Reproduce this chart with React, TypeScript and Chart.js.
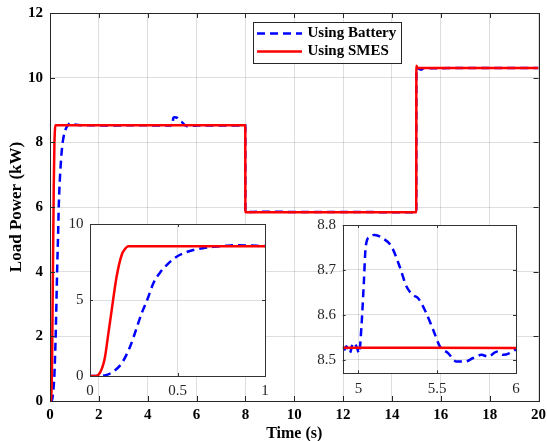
import React, { useEffect, useRef } from "react";
import { Chart, registerables } from "chart.js";

Chart.register(...registerables);

// ---------- data ----------
const seriesLabels = ["Using Battery", "Using SMES"];

const batteryTime = [
  0, 0.05, 0.095, 0.14, 0.181, 0.229, 0.262, 0.295, 0.33, 0.362, 0.4, 0.438, 0.495, 0.54, 0.59, 0.65, 0.705,
  0.77, 0.838, 0.92, 1.0, 1.5, 2.5, 3.5, 4.5, 4.902, 4.924, 4.945, 4.966, 4.987, 5.004, 5.019, 5.034, 5.046,
  5.072, 5.104, 5.156, 5.21, 5.262, 5.305, 5.347, 5.379, 5.421, 5.474, 5.517, 5.569, 5.623, 5.675, 5.728,
  5.781, 5.823, 5.877, 5.919, 5.961, 5.993, 6.5, 7.5, 7.995, 8.0, 8.5, 14.995, 15.0, 15.1, 15.2, 15.3, 20,
];
const batteryPower = [
  0, 0, 0.07, 0.35, 0.83, 1.93, 3.0, 4.12, 5.1, 6.1, 6.8, 7.3, 7.85, 8.1, 8.29, 8.42, 8.5,
  8.56, 8.6, 8.58, 8.55, 8.53, 8.52, 8.53, 8.52, 8.518, 8.53, 8.515, 8.537, 8.53, 8.515, 8.574, 8.67, 8.752,
  8.774, 8.778, 8.77, 8.752, 8.707, 8.663, 8.644, 8.637, 8.611, 8.567, 8.53, 8.515, 8.496, 8.496, 8.504,
  8.511, 8.507, 8.518, 8.511, 8.515, 8.522, 8.52, 8.52, 8.52, 5.84, 5.85, 5.84, 10.3, 10.27, 10.25, 10.29, 10.3,
];

const smesTime = [0, 0.03, 0.048, 0.07, 0.086, 0.105, 0.124, 0.152, 0.181, 0.2, 0.219, 1, 5, 7.995, 8.0, 14.995, 15.0, 15.05, 20];
const smesPower = [0, 0, 0.07, 0.55, 1.27, 2.8, 4.34, 6.53, 7.96, 8.35, 8.528, 8.528, 8.527, 8.525, 5.84, 5.84, 10.37, 10.3, 10.3];

const mainXTicks = [0, 2, 4, 6, 8, 10, 12, 14, 16, 18, 20];
const mainYTicks = [0, 2, 4, 6, 8, 10, 12];
const inset1XTicks = [0, 0.5, 1];
const inset1YTicks = [0, 5, 10];
const inset2XTicks = [5, 5.5, 6];
const inset2YTicks = [8.5, 8.6, 8.7, 8.8];

const SERIF = '"Liberation Serif", "Times New Roman", serif';

function makeDatasets(): any[] {
  return [
    {
      label: seriesLabels[0],
      data: batteryTime.map((x, i) => ({ x, y: batteryPower[i] })),
      borderColor: "#0000ff",
      borderWidth: 2.5,
      borderDash: [8, 5],
      pointRadius: 0,
      fill: false,
      order: 1,
      cubicInterpolationMode: "monotone",
    },
    {
      label: seriesLabels[1],
      data: smesTime.map((x, i) => ({ x, y: smesPower[i] })),
      borderColor: "#ff0000",
      borderWidth: 2.5,
      pointRadius: 0,
      fill: false,
      order: 0,
      cubicInterpolationMode: "monotone",
    },
  ];
}

function boxPlugin(tickLen: number, fillWhite: boolean, color: string) {
  return {
    id: "boxPlugin",
    beforeDraw(chart: any) {
      if (!fillWhite) return;
      const { ctx, chartArea: a } = chart;
      ctx.save();
      ctx.fillStyle = "#ffffff";
      ctx.fillRect(a.left, a.top, a.right - a.left, a.bottom - a.top);
      ctx.restore();
    },
    afterDraw(chart: any) {
      const { ctx, chartArea: a, scales } = chart;
      ctx.save();
      ctx.strokeStyle = color;
      ctx.lineWidth = 1;
      ctx.beginPath();
      for (const t of scales.x.ticks) {
        const px = Math.round(scales.x.getPixelForValue(t.value)) + 0.5;
        ctx.moveTo(px, a.bottom);
        ctx.lineTo(px, a.bottom - tickLen);
        ctx.moveTo(px, a.top);
        ctx.lineTo(px, a.top + tickLen);
      }
      for (const t of scales.y.ticks) {
        const py = Math.round(scales.y.getPixelForValue(t.value)) + 0.5;
        ctx.moveTo(a.left, py);
        ctx.lineTo(a.left + tickLen, py);
        ctx.moveTo(a.right, py);
        ctx.lineTo(a.right - tickLen, py);
      }
      ctx.stroke();
      ctx.strokeRect(Math.round(a.left) + 0.5, Math.round(a.top) + 0.5, Math.round(a.right - a.left), Math.round(a.bottom - a.top));
      ctx.restore();
    },
  };
}

const legendPlugin = {
  id: "customLegend",
  afterDraw(chart: any) {
    const { ctx } = chart;
    const x0 = 253, y0 = 22, w = 148, h = 41;
    ctx.save();
    ctx.fillStyle = "#ffffff";
    ctx.fillRect(x0, y0, w, h);
    ctx.strokeStyle = "#262626";
    ctx.lineWidth = 1;
    ctx.strokeRect(x0 + 0.5, y0 + 0.5, w, h);
    const rows = [33.5, 51.5];
    chart.data.datasets.forEach((ds: any, i: number) => {
      const y = rows[i];
      ctx.beginPath();
      ctx.strokeStyle = ds.borderColor;
      ctx.lineWidth = 2.5;
      ctx.setLineDash(ds.borderDash || []);
      ctx.moveTo(257, y);
      ctx.lineTo(302, y);
      ctx.stroke();
      ctx.setLineDash([]);
      ctx.fillStyle = "#000";
      ctx.font = `bold 15px ${SERIF}`;
      ctx.textAlign = "left";
      ctx.textBaseline = "middle";
      ctx.fillText(ds.label, 307.5, y);
    });
    ctx.restore();
  },
};

function setTicks(vals: number[]) {
  return (s: any) => {
    s.ticks = vals.map((v) => ({ value: v }));
  };
}

function fitX(h: number) {
  return (s: any) => {
    s.height = h;
    s.paddingLeft = 0;
    s.paddingRight = 0;
  };
}
function fitY(w: number) {
  return (s: any) => {
    s.width = w;
    s.paddingTop = 0;
    s.paddingBottom = 0;
  };
}

function MainChart() {
  const ref = useRef<HTMLCanvasElement>(null);
  useEffect(() => {
    const tickFont = { family: SERIF, size: 15, weight: "bold" as const };
    const chart = new Chart(ref.current!, {
      type: "line",
      data: { datasets: makeDatasets() },
      options: {
        animation: false,
        responsive: false,
        devicePixelRatio: 1,
        layout: { padding: { top: 13, right: 8.5, left: 0, bottom: 0 } },
        plugins: { legend: { display: false }, tooltip: { enabled: false } },
        scales: {
          x: {
            type: "linear",
            min: 0,
            max: 20,
            afterBuildTicks: setTicks(mainXTicks),
            afterFit: fitX(40),
            ticks: { font: tickFont, color: "#000", padding: 5, maxRotation: 0, autoSkip: false, callback: (v: any) => String(v) },
            grid: { color: "rgba(0,0,0,0.13)", drawTicks: false },
            border: { display: false },
            title: {
              display: true, text: "Time (s)", color: "#000",
              font: { family: SERIF, size: 16, weight: "bold" },
              padding: { top: 0, bottom: -2 },
            },
          },
          y: {
            type: "linear",
            min: 0,
            max: 12,
            afterBuildTicks: setTicks(mainYTicks),
            afterFit: fitY(50),
            ticks: { font: tickFont, color: "#000", padding: 7, autoSkip: false, callback: (v: any) => String(v) },
            grid: { color: "rgba(0,0,0,0.13)", drawTicks: false },
            border: { display: false },
            title: {
              display: true, text: "Load Power (kW)", color: "#000",
              font: { family: SERIF, size: 17, weight: "bold" },
              padding: { top: 6, bottom: 0 },
            },
          },
        },
      } as any,
      plugins: [boxPlugin(5, false, "#262626"), legendPlugin],
    });
    return () => chart.destroy();
  }, []);
  return <canvas ref={ref} width={547} height={441} style={{ position: "absolute", left: 0, top: 0 }} />;
}

type InsetProps = {
  left: number; top: number; width: number; height: number;
  padTop: number; padRight: number; yWidth: number; xHeight: number;
  xMin: number; xMax: number; yMin: number; yMax: number;
  xTicks: number[]; yTicks: number[]; xPad: number; yPad: number;
};

function InsetChart(p: InsetProps) {
  const ref = useRef<HTMLCanvasElement>(null);
  useEffect(() => {
    const tickFont = { family: SERIF, size: 15, weight: "normal" as const };
    const chart = new Chart(ref.current!, {
      type: "line",
      data: { datasets: makeDatasets() },
      options: {
        animation: false,
        responsive: false,
        devicePixelRatio: 1,
        layout: { padding: { top: p.padTop, right: p.padRight, left: 0, bottom: 0 } },
        plugins: { legend: { display: false }, tooltip: { enabled: false } },
        scales: {
          x: {
            type: "linear",
            min: p.xMin,
            max: p.xMax,
            afterBuildTicks: setTicks(p.xTicks),
            afterFit: fitX(p.xHeight),
            ticks: { font: tickFont, color: "#262626", padding: p.xPad, maxRotation: 0, autoSkip: false, callback: (v: any) => String(v) },
            grid: { color: "rgba(0,0,0,0.13)", drawTicks: false },
            border: { display: false },
          },
          y: {
            type: "linear",
            min: p.yMin,
            max: p.yMax,
            afterBuildTicks: setTicks(p.yTicks),
            afterFit: fitY(p.yWidth),
            ticks: { font: tickFont, color: "#262626", padding: p.yPad, autoSkip: false, callback: (v: any) => String(v) },
            grid: { color: "rgba(0,0,0,0.13)", drawTicks: false },
            border: { display: false },
          },
        },
      } as any,
      plugins: [boxPlugin(3, true, "#333333")],
    });
    return () => chart.destroy();
  }, []);
  return (
    <canvas
      ref={ref}
      width={p.width}
      height={p.height}
      style={{ position: "absolute", left: p.left, top: p.top }}
    />
  );
}

export default function App() {
  return (
    <div style={{ position: "absolute", left: 0, top: 0, width: 547, height: 441, background: "#fff" }}>
      <MainChart />
      <InsetChart
        left={50} top={210} width={225} height={195}
        padTop={14} padRight={10} yWidth={40} xHeight={29}
        xMin={0} xMax={1} yMin={0} yMax={10}
        xTicks={inset1XTicks} yTicks={inset1YTicks} xPad={6} yPad={6.5}
      />
      <InsetChart
        left={300} top={210} width={230} height={195}
        padTop={15} padRight={14} yWidth={42.7} xHeight={31.7}
        xMin={4.9} xMax={6} yMin={8.47} yMax={8.8}
        xTicks={inset2XTicks} yTicks={inset2YTicks} xPad={7} yPad={6.7}
      />
    </div>
  );
}
